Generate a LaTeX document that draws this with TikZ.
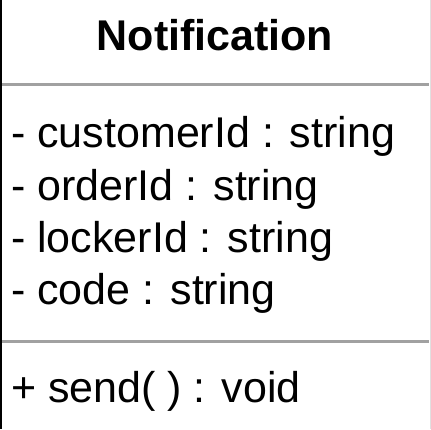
\documentclass[tikz,border=0pt]{standalone}
\usepackage{fontspec}
\setmainfont{Liberation Sans}
\begin{document}
\begin{tikzpicture}[x=1pt,y=-1pt,
  member/.style={anchor=base west,inner sep=0pt,font=\fontsize{43}{52}\selectfont},
  classname/.style={anchor=base,inner sep=0pt,font=\fontsize{43}{52}\selectfont\bfseries},
  divider/.style={draw=black!37,line width=3pt}]
  \useasboundingbox (0,0) rectangle (431,429);
  \fill[white] (0,0) rectangle (431,429);
  % compartment dividers
  \coordinate (d1l) at (0,84.5);
  \coordinate (d1r) at (429,84.5);
  \coordinate (d2l) at (0,341);
  \coordinate (d2r) at (429,341);
  \draw[divider] (d1l) -- (d1r);
  \draw[divider] (d2l) -- (d2r);
  % class frame sides
  \fill[black] (0,0) rectangle (2,429);
  \fill[black!12] (429.5,0) rectangle (430.5,429);
  % class name
  \node[classname] (name) at (215,50) {Notification};
  % attributes
  \node[member] (a1) at (11,147) {- customerId : string};
  \node[member] (a2) at (11,200) {- orderId : string};
  \node[member] (a3) at (11,252) {- lockerId : string};
  \node[member] (a4) at (11,304) {- code : string};
  % operations
  \node[member] (op1) at (11,402) {+ send( ) : void};
\end{tikzpicture}
\end{document}
